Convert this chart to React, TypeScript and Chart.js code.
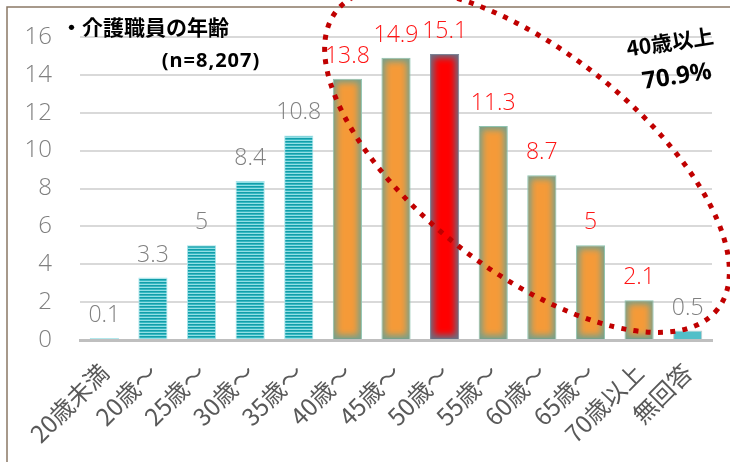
import React, { useEffect, useRef } from "react";
import { Chart, registerables } from "chart.js";

Chart.register(...registerables);

const categories = [
  "20歳未満", "20歳～", "25歳～", "30歳～", "35歳～", "40歳～", "45歳～",
  "50歳～", "55歳～", "60歳～", "65歳～", "70歳以上", "無回答",
];
const values = [0.1, 3.3, 5, 8.4, 10.8, 13.8, 14.9, 15.1, 11.3, 8.7, 5, 2.1, 0.5];
const barKinds = [
  "teal", "teal", "teal", "teal", "teal", "orange", "orange",
  "red", "orange", "orange", "orange", "orange", "light",
];
const yMax = 16;
const yStep = 2;
const chartTitle = "・介護職員の年齢";
const sampleLabel = "(n=8,207)";
const calloutLines = ["40歳以上", "70.9%"];

function makeStripePattern(ctx: CanvasRenderingContext2D): CanvasPattern | string {
  const c = document.createElement("canvas");
  c.width = 1;
  c.height = 3;
  const p = c.getContext("2d");
  if (!p) return "#2fb3bd";
  p.fillStyle = "#129eaa";
  p.fillRect(0, 0, 1, 1);
  p.fillStyle = "#36b8c2";
  p.fillRect(0, 1, 1, 1);
  p.fillStyle = "#92dfe5";
  p.fillRect(0, 2, 1, 1);
  return ctx.createPattern(c, "repeat") || "#2fb3bd";
}

export default function App() {
  const canvasRef = useRef<HTMLCanvasElement | null>(null);

  useEffect(() => {
    const canvas = canvasRef.current;
    if (!canvas) return;
    const ctx0 = canvas.getContext("2d")!;
    const stripe = makeStripePattern(ctx0);

    const bg = barKinds.map((k) =>
      k === "teal" ? stripe : k === "orange" ? "#78a08a" : k === "red" ? "#6a6e82" : "#52bfc8"
    );
    const border = barKinds.map((k) =>
      k === "teal" ? "#a8e4ea" : k === "orange" ? "#8fc4b0" : k === "red" ? "#7d8496" : "#c9c9c9"
    );
    const labelColors = barKinds.map((k) => (k === "orange" || k === "red" ? "#ff1414" : "#808080"));

    const decor = {
      id: "decor",
      beforeDraw(chart: any) {
        const c = chart.ctx;
        c.save();
        c.fillStyle = "#ffffff";
        c.fillRect(0, 0, chart.width, chart.height);
        c.restore();
      },
      afterDatasetsDraw(chart: any) {
        const c = chart.ctx;
        const meta = chart.getDatasetMeta(0);
        meta.data.forEach((bar: any, i: number) => {
          const kind = barKinds[i];
          if (kind !== "orange" && kind !== "red") return;
          const { x, y, base, width } = bar.getProps(["x", "y", "base", "width"], true);
          const left = x - width / 2;
          const h = base - y;
          c.save();
          c.beginPath();
          c.rect(left + 1, y + 1, width - 2, h - 2);
          c.clip();
          c.filter = "blur(3px)";
          c.fillStyle = kind === "orange" ? "#f59a38" : "#ff0000";
          c.fillRect(left + 4, y + 4, width - 8, Math.max(h - 8, 2));
          c.restore();
        });
        meta.data.forEach((bar: any, i: number) => {
          const { x, y } = bar.getProps(["x", "y"], true);
          c.save();
          c.font = "300 23px 'Open Sans'";
          c.fillStyle = labelColors[i];
          c.textAlign = "center";
          c.textBaseline = "alphabetic";
          c.fillText(String(values[i]), x, y - 16);
          c.restore();
        });
      },
      afterDraw(chart: any) {
        const c = chart.ctx;
        const xs = chart.scales.x;
        const ys = chart.scales.y;
        c.save();
        c.strokeStyle = "#8a7866";
        c.lineWidth = 1.5;
        c.beginPath();
        c.moveTo(7, chart.height + 5);
        c.lineTo(7, 7);
        c.lineTo(chart.width + 5, 7);
        c.stroke();
        c.restore();
        // dotted ellipse
        c.save();
        c.strokeStyle = "#c00000";
        c.lineWidth = 5;
        c.setLineDash([5, 7.3]);
        c.beginPath();
        c.ellipse(xs.getPixelForValue(8.695), ys.getPixelForValue(9.5), 242, 110, (38 * Math.PI) / 180, 0, Math.PI * 2);
        c.stroke();
        c.restore();
        // title texts
        c.save();
        c.fillStyle = "#000000";
        c.textBaseline = "middle";
        c.textAlign = "left";
        c.font = "bold 21px 'Noto Sans CJK JP'";
        c.fillText(chartTitle, 61, 27);
        c.textAlign = "center";
        c.font = "bold 20px 'Noto Sans'";
        (c as any).letterSpacing = "1px";
        c.fillText(sampleLabel, 211, 61);
        (c as any).letterSpacing = "0px";
        c.restore();
        // callout
        const ang = (-8.5 * Math.PI) / 180;
        c.save();
        c.fillStyle = "#000000";
        c.textAlign = "center";
        c.textBaseline = "middle";
        c.translate(670, 42);
        c.rotate(ang);
        c.font = "bold 21px 'Noto Sans CJK JP'";
        c.fillText(calloutLines[0], 0, 0);
        c.restore();
        c.save();
        c.fillStyle = "#000000";
        c.textAlign = "center";
        c.textBaseline = "middle";
        c.translate(677, 77);
        c.rotate(ang);
        c.font = "bold 24px 'Noto Sans'";
        c.fillText(calloutLines[1], 0, 0);
        c.restore();
      },
    };

    const chart = new Chart(canvas, {
      type: "bar",
      data: {
        labels: categories,
        datasets: [
          {
            data: values,
            backgroundColor: bg as any,
            borderColor: border,
            borderWidth: 1,
            barPercentage: 0.6,
            categoryPercentage: 1,
          },
        ],
      },
      options: {
        responsive: false,
        animation: false,
        devicePixelRatio: 1,
        layout: { padding: { left: 0, right: 18, top: 37, bottom: 0 } },
        plugins: { legend: { display: false }, tooltip: { enabled: false }, title: { display: false } },
        scales: {
          x: {
            grid: { display: false, drawTicks: false },
            border: { display: true, color: "#bfbfbf", width: 3 },
            ticks: {
              maxRotation: 45,
              minRotation: 45,
              autoSkip: false,
              padding: 18,
              color: "#595959",
              font: { family: "'Noto Sans CJK JP'", size: 24 },
            },
            afterFit: (s: any) => {
              s.height = 122;
            },
          },
          y: {
            min: 0,
            max: yMax,
            ticks: {
              stepSize: yStep,
              padding: 0,
              color: "#7f7f7f",
              font: { family: "'Open Sans'", size: 24, weight: "300" as any },
            },
            grid: {
              color: "#d9d9d9",
              lineWidth: 2,
              drawTicks: true,
              tickLength: 28,
              tickColor: "rgba(0,0,0,0)",
            },
            border: { display: false },
            afterFit: (s: any) => {
              s.width = 80;
            },
          },
        },
      },
      plugins: [decor],
    });
    return () => chart.destroy();
  }, []);

  return (
    <div style={{ position: "fixed", left: 0, top: 0, width: 730, height: 462 }}>
      <canvas ref={canvasRef} width={730} height={462} style={{ display: "block", width: 730, height: 462 }} />
    </div>
  );
}
